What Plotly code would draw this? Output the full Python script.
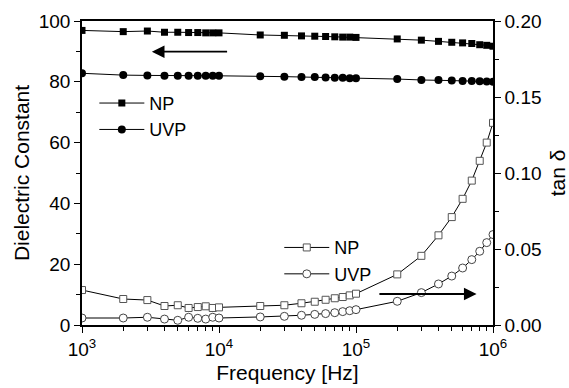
import plotly.graph_objects as go

freq = [1e3, 2e3, 3e3, 4e3, 5e3, 6e3, 7e3, 8e3, 9e3,
        1e4, 2e4, 3e4, 4e4, 5e4, 6e4, 7e4, 8e4, 9e4,
        1e5, 2e5, 3e5, 4e5, 5e5, 6e5, 7e5, 8e5, 9e5, 1e6]

dc_np = [96.9, 96.5, 96.7, 96.3, 96.3, 96.2, 96.2, 96.1, 96.1,
         96.1, 95.4, 95.3, 95.1, 95.0, 94.9, 94.8, 94.7, 94.7,
         94.6, 94.1, 93.7, 93.3, 93.0, 92.8, 92.6, 92.2, 92.0, 91.7]

dc_uvp = [82.8, 82.2, 82.1, 82.0, 82.0, 82.0, 82.0, 82.0, 82.0,
          82.0, 81.8, 81.7, 81.6, 81.6, 81.4, 81.3, 81.3, 81.2,
          81.2, 80.9, 80.6, 80.6, 80.4, 80.3, 80.3, 80.2, 80.1, 80.0]

tan_np = [0.0230, 0.0171, 0.0164, 0.0125, 0.0130, 0.0112, 0.0118, 0.0123, 0.0112,
          0.0116, 0.0125, 0.0130, 0.0143, 0.0153, 0.0166, 0.0176, 0.0184, 0.0195,
          0.0206, 0.0333, 0.0455, 0.0590, 0.0710, 0.0830, 0.0950, 0.1080, 0.1200, 0.1330]

tan_uvp = [0.0046, 0.0046, 0.0051, 0.0039, 0.0031, 0.0051, 0.0044, 0.0039, 0.0051,
           0.0046, 0.0053, 0.0057, 0.0064, 0.0070, 0.0075, 0.0081, 0.0088, 0.0094,
           0.0101, 0.0156, 0.0213, 0.0270, 0.0322, 0.0375, 0.0430, 0.0485, 0.0542, 0.0595]

x_tickvals = [1e3, 1e4, 1e5, 1e6]
x_ticktext = ["10<sup>3</sup>", "10<sup>4</sup>", "10<sup>5</sup>", "10<sup>6</sup>"]

FONT = "Arial, Liberation Sans, sans-serif"

fig = go.Figure()

fig.add_trace(go.Scatter(x=freq, y=dc_np, mode="lines+markers", name="NP",
                         line=dict(color="black", width=1),
                         marker=dict(symbol="square", size=7, color="black"),
                         legend="legend"))
fig.add_trace(go.Scatter(x=freq, y=dc_uvp, mode="lines+markers", name="UVP",
                         line=dict(color="black", width=1),
                         marker=dict(symbol="circle", size=8, color="black"),
                         legend="legend"))
fig.add_trace(go.Scatter(x=freq, y=tan_np, mode="lines+markers", name="NP", yaxis="y2",
                         line=dict(color="black", width=1),
                         marker=dict(symbol="square", size=7, color="white",
                                     line=dict(color="#555555", width=1)),
                         legend="legend2"))
fig.add_trace(go.Scatter(x=freq, y=tan_uvp, mode="lines+markers", name="UVP", yaxis="y2",
                         line=dict(color="black", width=1),
                         marker=dict(symbol="circle", size=8, color="white",
                                     line=dict(color="#444444", width=1)),
                         legend="legend2"))

minor_x = [m * 10 ** e for e in range(3, 6) for m in range(2, 10)]

fig.update_layout(
    width=569, height=388,
    margin=dict(l=82, r=76, t=21, b=63),
    plot_bgcolor="white", paper_bgcolor="white",
    font=dict(family=FONT, size=19, color="black"),
    xaxis=dict(type="log", range=[3, 6], tickvals=x_tickvals, ticktext=x_ticktext,
               automargin=False,
               ticks="outside", ticklen=6, tickwidth=1.2, tickcolor="black",
               showline=True, linecolor="black", linewidth=1.5, mirror=True,
               showgrid=False, zeroline=False,
               minor=dict(tickvals=minor_x, ticks="outside", ticklen=4, tickcolor="black", showgrid=False),
               title=dict(text="Frequency [Hz]", font=dict(size=21), standoff=7),
               tickfont=dict(size=19)),
    yaxis=dict(range=[0, 100], dtick=20, ticks="outside", ticklen=6, tickwidth=1.2,
               automargin=False,
               tickcolor="black", showline=True, linecolor="black", linewidth=1.5,
               showgrid=False, zeroline=False,
               minor=dict(dtick=10, ticks="outside", ticklen=4, tickcolor="black", showgrid=False),
               title=dict(text="Dielectric Constant", font=dict(size=21), standoff=3),
               tickfont=dict(size=19)),
    yaxis2=dict(range=[0, 0.2], dtick=0.05, tickformat=".2f", overlaying="y", side="right",
                automargin=False,
                ticks="outside", ticklen=6, tickwidth=1.2, tickcolor="black",
                showline=True, linecolor="black", linewidth=1.5,
                showgrid=False, zeroline=False,
                minor=dict(dtick=0.025, ticks="outside", ticklen=4, tickcolor="black", showgrid=False),
                title=dict(text="tan δ", font=dict(size=21), standoff=12),
                tickfont=dict(size=19)),
    legend=dict(x=0.03, y=0.79, xanchor="left", yanchor="top", itemwidth=45,
                bgcolor="rgba(0,0,0,0)", font=dict(size=18), tracegroupgap=0),
    legend2=dict(x=0.48, y=0.315, xanchor="left", yanchor="top", itemwidth=45,
                 bgcolor="rgba(0,0,0,0)", font=dict(size=18), tracegroupgap=0),
    showlegend=True,
)

# direction arrows
fig.add_annotation(x=3.51, y=89.9, ax=4.07, ay=89.9, xref="x", yref="y",
                   axref="x", ayref="y", showarrow=True, arrowhead=2,
                   arrowsize=1.4, arrowwidth=1.8, arrowcolor="black", text="")
fig.add_annotation(x=5.88, y=0.0204, ax=5.16, ay=0.0204, xref="x", yref="y2",
                   axref="x", ayref="y2", showarrow=True, arrowhead=2,
                   arrowsize=1.4, arrowwidth=1.8, arrowcolor="black", text="")

fig.write_html("out.html")
